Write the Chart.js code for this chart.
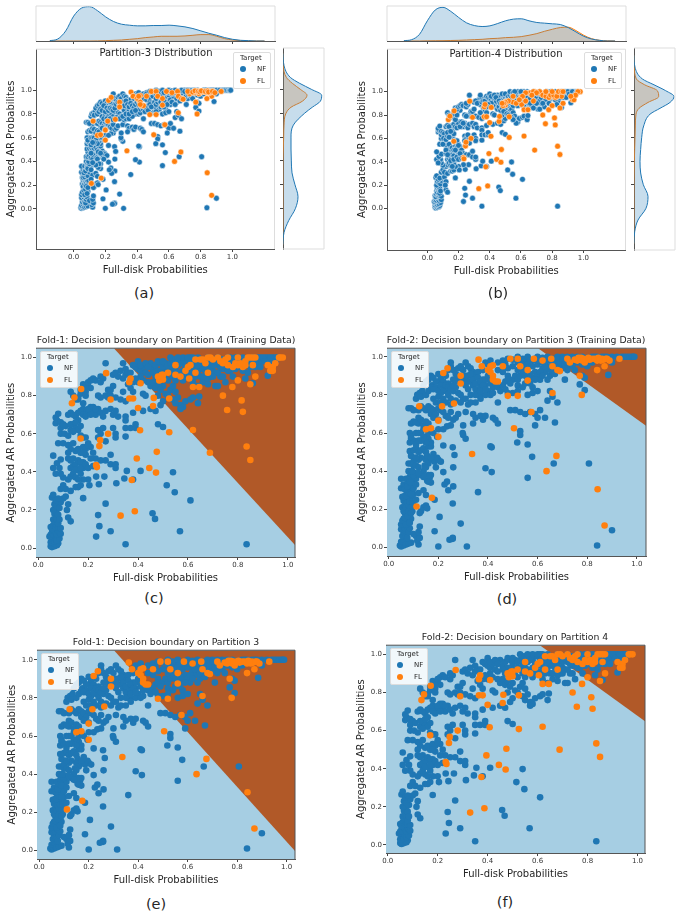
<!DOCTYPE html>
<html>
<head>
<meta charset="utf-8">
<style>
  body { margin: 0; background: #fff; font-family: "DejaVu Sans", sans-serif; color: #262626; }
  #page { position: relative; width: 681px; height: 912px; overflow: hidden; }
  canvas { position: absolute; }
  .label { position: absolute; white-space: nowrap; transform: translate(-50%, -50%); z-index: 2; }
  .legend { position: absolute; box-sizing: border-box; width: 38px; height: 37px; z-index: 2; font-size: 7px;
            background: rgba(255,255,255,.85); border: 1px solid #ddd; border-radius: 2px; }
  .legend div { position: absolute; line-height: 8px; }
  .legend i { position: absolute; width: 6px; height: 6px; border-radius: 50%; }
</style>
<script src="https://cdn.jsdelivr.net/npm/chart.js@4"></script>
</head>
<body>
<div id="page"></div>
<script>
// values, [x, y] = [full-disk prob, aggregated AR prob]
const partition3NF = [
  [.045,.01],[.05,.005],[.055,.015],[.06,.01],[.065,.02],[.05,.03],[.06,.04],[.07,.015],[.08,.02],[.09,.025],[.055,.06],[.06,.08],[.05,.095],[.07,.06],[.065,.1],[.075,.05],[.08,.08],[.06,.12],[.07,.13],[.075,.11],[.085,.1],[.06,.15],[.07,.16],[.08,.14],[.065,.18],[.075,.19],[.085,.17],[.09,.15],[.055,.21],[.065,.22],[.075,.21],[.085,.2],[.095,.19],[.06,.245],[.07,.25],[.08,.24],[.09,.23],[.1,.22],[.055,.265],[.065,.27],[.075,.28],[.085,.265],[.095,.26],[.05,.31],[.07,.3],[.08,.31],[.09,.3],[.1,.28],[.06,.33],[.075,.335],[.085,.325],[.095,.32],[.05,.36],[.07,.36],[.085,.37],[.1,.35],[.08,.4],[.09,.385],[.105,.39],[.11,.36],
  [.05,.12],[.055,.14],[.06,.19],[.065,.155],[.07,.21],[.075,.235],[.08,.22],[.085,.24],[.09,.21],[.07,.12],[.075,.165],[.08,.19],[.085,.13],[.09,.18],[.095,.24],[.06,.265],[.07,.27],[.08,.285],[.09,.28],[.1,.31],[.065,.305],[.075,.32],[.085,.345],[.09,.34],[.1,.38],[.11,.33],[.095,.4],[.1,.43],[.08,.44],[.105,.47],[.09,.48],
  [.12,.015],[.115,.035],[.11,.06],[.1,.07],[.125,.05],[.12,.08],[.125,.11],[.13,.19],[.14,.21],[.125,.18],[.15,.22],[.155,.205],[.12,.285],[.14,.3],[.15,.275],[.16,.345],[.165,.365],[.17,.34],[.155,.35],[.11,.25],
  [.84,.01],[.9,.09],[.807,.44],[.665,.44],[.56,.365],[.578,.475],[.56,.54],[.53,.61],[.53,.59],[.518,.55],[.415,.525],[.41,.53],[.415,.395],[.39,.415],[.36,.29],[.315,.005],[.29,.125],[.258,.05],[.258,.045],[.245,.04],[.2,.005],[.185,.085],[.205,.16],[.258,.23],[.26,.32],[.24,.3],[.235,.345],[.225,.33],[.26,.42],[.22,.395],[.258,.525],[.265,.485],[.22,.535],[.31,.57],[.3,.59],[.298,.6],[.3,.64],[.25,.64],[.235,.635],[.2,.62],[.22,.62],[.17,.62],[.185,.25],
  [.09,.44],[.1,.45],[.11,.43],[.12,.42],[.13,.47],[.14,.4],[.15,.46],[.16,.44],[.17,.38],[.12,.46],[.13,.38],[.145,.43],[.175,.46],[.18,.49],[.185,.45],[.195,.47],[.2,.46],[.21,.45],[.19,.42],[.085,.505],[.1,.51],[.11,.52],[.12,.5],[.13,.51],[.14,.52],[.15,.5],[.16,.53],[.16,.55],[.155,.48],[.17,.53],[.17,.55],[.16,.57],[.15,.58],[.085,.55],[.09,.57],[.1,.56],[.11,.54],[.085,.6],[.09,.58],[.11,.6],[.12,.6],[.14,.62],[.16,.6],[.18,.6],[.195,.58],
  [.12,.65],[.13,.6],[.14,.58],[.15,.55],[.13,.56],[.12,.56],[.17,.47],[.15,.42],[.16,.38],[.14,.37],[.12,.39],[.11,.47],
  [.09,.65],[.1,.66],[.11,.655],[.12,.68],[.13,.67],[.14,.64],[.15,.66],[.16,.65],[.17,.7],[.12,.72],[.08,.73],[.09,.73],[.1,.72],[.13,.74],[.14,.73],[.15,.72],[.16,.74],[.17,.73],[.18,.72],[.19,.7],[.2,.73],[.21,.72],[.22,.71],[.18,.68],[.2,.67],[.23,.69],[.24,.68],[.26,.67],[.25,.71],[.27,.68],[.28,.7],[.31,.71],[.32,.75],[.34,.7],[.35,.68],[.37,.69],[.38,.67],[.39,.69],[.42,.68],[.43,.67],[.44,.65],[.34,.65],
  [.11,.78],[.115,.8],[.125,.81],[.135,.82],[.13,.79],[.15,.8],[.14,.85],[.15,.87],[.16,.88],[.17,.9],[.18,.89],[.175,.85],[.19,.84],[.2,.87],[.2,.91],[.21,.89],[.22,.87],[.23,.9],[.24,.93],[.25,.95],[.25,.97],[.26,.93],[.27,.91],[.28,.94],[.29,.95],[.3,.93],[.31,.97],[.32,.95],[.33,.94],[.34,.92],[.35,.91],
  [.18,.78],[.2,.79],[.21,.81],[.22,.78],[.23,.82],[.24,.8],[.25,.78],[.26,.82],[.27,.84],[.28,.81],[.29,.8],[.3,.78],[.31,.85],[.32,.83],[.33,.87],[.34,.85],[.35,.83],[.36,.86],[.37,.84],[.38,.88],[.39,.85],[.4,.82],[.41,.86],[.36,.8],[.37,.8],[.39,.8],[.41,.8],[.42,.81],[.33,.76],[.35,.76],[.37,.78],[.44,.76],[.22,.85],[.24,.86],[.26,.88],[.28,.87],[.29,.89],[.32,.9],[.34,.89],[.36,.92],[.38,.93],[.39,.97],[.4,.96],[.41,.98],[.44,.93],[.46,.92],[.48,.9],[.47,.87],[.5,.88],[.52,.85],[.54,.84],[.55,.86],[.58,.84],[.5,.81],[.52,.82],[.56,.8],[.58,.81],[.6,.82],[.48,.81],[.49,.72],[.51,.72],[.53,.71],[.55,.7],[.57,.71],[.59,.7],[.6,.68],[.61,.72],[.63,.68],[.64,.77],[.66,.79],[.68,.76],[.67,.655],[.59,.64],[.65,.82],
  [.16,.82],[.17,.84],[.18,.83],[.19,.87],[.2,.82],[.21,.85],[.22,.83],[.23,.85],[.24,.84],[.25,.83],[.26,.85],[.27,.88],[.28,.9],[.29,.87],[.3,.88],[.31,.9],[.32,.87],[.33,.91],[.34,.88],[.35,.86],[.36,.89],[.37,.87],[.38,.85],[.39,.88],[.4,.9],[.41,.88],[.42,.84],[.43,.86],[.44,.84],[.45,.82],[.46,.85],[.47,.83],[.48,.88],[.49,.86],[.51,.9],[.52,.88],[.53,.9],[.54,.92],[.55,.94],[.56,.88],[.57,.86],[.58,.89],[.59,.92],[.6,.9],[.61,.88],[.62,.94],[.63,.92],[.64,.95],[.65,.9],[.66,.92],[.67,.94],[.68,.97],[.69,.95],[.7,.97],[.72,.93],[.73,.96],[.74,.97],[.76,.97],[.78,.96],[.8,.98],[.82,.99],[.84,.99],
  [.19,.76],[.21,.76],[.23,.76],[.25,.75],[.27,.77],[.29,.76],[.31,.78],[.33,.8],[.35,.8],[.37,.82],[.39,.83],
  [.44,.97],[.46,.98],[.47,.96],[.48,.94],[.5,.95],[.5,.985],[.52,.93],[.54,.96],[.55,.9],[.56,.98],[.57,.91],[.58,.95],[.59,.88],[.6,.96],[.61,.92],[.62,.9],[.63,.95],[.64,.88],[.65,.93],[.66,.96],[.67,.91],[.68,.95],[.69,.97],[.7,.94],[.71,.88],[.71,.96],[.72,.97],[.74,.95],[.75,.93],[.78,.9],[.79,.89],[.77,.855],[.79,.825],[.8,.95],[.82,.97],[.885,.905],[.9,.97],
  [.46,.97],[.48,.99],[.52,.97],[.54,.98],[.56,.96],[.58,.98],[.6,.98],[.62,.97],[.64,.98],[.66,.98],[.7,1],[.74,1],[.76,1],[.82,1],[.84,1],[.87,1],
  [.52,1],[.54,.99],[.56,1],[.57,.98],[.59,.99],[.6,1],[.62,.995],[.64,1],[.66,.99],[.68,1],[.7,.99],[.72,1],[.74,.995],[.76,.99],[.78,1],[.8,.995],[.83,1],[.86,1],[.88,1],[.9,1],[.92,1],[.94,1],[.95,1],[.96,1],[.97,1],[.98,1],[.985,1],[.99,1]
];
const partition3FL = [
  [.112,.215],[.174,.26],[.842,.305],[.87,.115],[.336,.49],[.636,.4],[.676,.48],[.505,.625],[.575,.71],[.66,.81],[.778,.8],[.48,.795],[.52,.795],[.123,.74],[.215,.74],[.263,.755],[.2,.665],[.15,.62],[.17,.625],[.2,.58],[.22,.915],[.237,.94],[.29,.9],[.29,.86],[.362,.985],[.375,.95],[.4,.93],[.41,.92],[.42,.955],[.42,.9],[.43,.87],[.44,.87],[.42,.88],[.41,.95],[.46,.95],[.49,.99],[.52,.99],[.53,.95],[.56,.93],[.56,.875],[.585,.99],[.62,.98],[.655,.99],[.66,.95],[.68,.93],[.69,.925],[.73,.97],[.77,.99],[.78,.98],[.8,.99],[.82,.99],[.84,.98],[.86,.99],[.87,.95],[.88,.99],[.77,.9],[.84,.93],[.93,.99],[.76,.98],[.79,.97],[.81,.985],[.855,.98],[.865,.985],[.775,.995],[.72,.99],
  [.75,.985],[.765,.995],[.785,.99],[.795,.985],[.805,.995],[.83,.99],[.845,.995],[.85,.985],[.875,.99],[.89,.98]
];
const partition4NF = [
  [.05,.01],[.055,.005],[.06,.015],[.065,.01],[.07,.02],[.075,.015],[.08,.025],[.05,.03],[.055,.04],[.06,.045],[.065,.035],[.07,.05],[.075,.04],[.085,.05],[.045,.06],[.05,.07],[.055,.08],[.06,.07],[.065,.09],[.07,.08],[.075,.07],[.08,.09],[.085,.08],[.09,.075],[.05,.11],[.055,.1],[.06,.12],[.07,.11],[.075,.12],[.08,.11],[.09,.105],[.06,.15],[.065,.14],[.07,.16],[.075,.15],[.08,.13],[.065,.18],[.07,.2],[.075,.18],[.08,.175],[.06,.2],[.085,.15],[.065,.23],[.075,.22],[.085,.21],[.09,.24],[.1,.26],[.055,.265],[.07,.25],[.06,.28],[.08,.26],[.11,.27],[.12,.23],[.12,.16],[.13,.14],[.115,.2],
  [.835,.02],[.568,.088],[.35,.02],[.29,.088],[.232,.06],[.245,.115],[.24,.173],[.27,.233],[.18,.262],[.458,.183],[.468,.153],[.61,.25],[.547,.293],[.515,.33],[.54,.398],[.41,.405],[.38,.36],[.313,.34],[.345,.365],[.355,.405],[.243,.335],[.265,.375],[.232,.375],[.2,.36],[.205,.33],
  [.09,.31],[.1,.33],[.11,.31],[.13,.3],[.15,.32],[.16,.32],[.17,.33],[.18,.36],[.12,.36],[.13,.375],[.1,.37],[.09,.39],[.085,.42],[.06,.42],[.07,.39],[.075,.445],[.09,.465],[.06,.485],[.12,.47],[.13,.42],[.14,.43],[.15,.44],[.16,.41],[.17,.39],[.18,.42],[.14,.47],[.16,.46],[.18,.45],[.19,.49],[.15,.51],[.13,.52],[.12,.54],[.14,.55],[.16,.52],[.18,.53],[.17,.5],[.19,.52],[.2,.55],[.21,.53],[.22,.5],[.23,.47],[.25,.46],[.27,.46],[.29,.49],[.29,.44],[.31,.42],[.31,.44],[.08,.55],
  [.1,.55],[.12,.5],[.13,.46],[.14,.39],[.15,.37],[.16,.36],[.17,.45],[.15,.41],[.17,.42],[.18,.5],[.19,.44],[.2,.42],[.21,.47],[.22,.43],
  [.07,.655],[.075,.67],[.07,.685],[.08,.705],[.09,.6],[.09,.63],[.09,.66],[.1,.65],[.11,.64],[.105,.6],[.12,.59],[.13,.62],[.14,.65],[.15,.63],[.16,.62],[.17,.59],[.18,.58],[.19,.58],[.2,.54],[.12,.7],[.13,.71],[.15,.69],[.16,.67],[.16,.71],[.17,.64],[.18,.73],[.19,.72],[.2,.71],[.21,.74],[.22,.72],[.23,.7],[.24,.73],[.25,.71],[.26,.69],[.27,.72],[.29,.73],[.3,.7],[.31,.72],[.32,.69],[.35,.69],[.35,.67],[.38,.71],[.24,.62],[.25,.6],[.26,.63],[.24,.58],[.27,.56],[.3,.63],[.31,.6],[.31,.58],[.35,.585],[.35,.63],[.37,.63],[.39,.63],[.39,.65],[.48,.65],[.5,.635],
  [.13,.65],[.14,.7],[.14,.61],[.15,.66],[.17,.72],[.18,.7],[.19,.69],[.2,.73],[.21,.7],[.22,.74],[.23,.73],[.16,.78],[.17,.83],[.18,.86],[.19,.82],[.2,.85],[.21,.84],[.27,.8],[.28,.79],[.29,.8],[.3,.91],[.33,.93],[.34,.89],[.35,.94],[.37,.88],
  [.13,.82],[.14,.8],[.15,.78],[.16,.79],[.17,.81],[.18,.76],[.19,.8],[.19,.85],[.2,.87],[.21,.88],[.22,.89],[.23,.88],[.25,.87],[.26,.89],[.27,.97],[.25,.9],[.28,.83],[.29,.83],[.3,.85],[.31,.92],[.32,.9],[.31,.79],[.33,.78],[.24,.8],[.25,.79],[.34,.97],[.35,.91],[.36,.92],[.36,.86],[.37,.84],[.37,.92],[.34,.82],[.35,.77],[.38,.82],[.42,.81],[.43,.8],[.42,.72],[.45,.73],[.47,.72],[.49,.75],[.5,.77],[.48,.8],[.38,.96],[.39,.95],[.4,.94],[.41,.93],[.42,.95],[.43,.92],[.44,.91],[.45,.97],[.46,.94],[.47,.96],[.48,.93],[.49,.97],[.5,.95],[.51,.97],[.52,.93],[.5,.85],[.52,.88],[.53,.83],[.54,.85],[.55,.82],[.56,.79],[.57,.75],[.58,.74],[.59,.77],[.61,.78],[.62,.79],[.64,.76],[.645,.795],[.57,.73],
  [.44,.87],[.45,.85],[.46,.87],[.47,.84],[.48,.86],[.49,.83],[.51,.81],[.52,.8],[.54,.78],[.55,.76],[.42,.88],[.41,.9],[.4,.87],[.39,.89],[.38,.87],
  [.4,.98],[.41,.96],[.43,.97],[.44,.95],[.46,.92],[.47,.9],[.48,.98],[.49,.92],[.5,.98],[.51,.92],[.51,.89],[.52,.96],[.53,.92],[.53,.97],[.54,.9],[.54,.99],[.55,.93],[.55,.88],[.56,.96],[.57,.99],[.57,.9],[.58,.93],[.58,.97],[.59,.9],[.59,.99],[.6,.94],[.61,.9],[.61,1],[.62,.95],[.62,.92],[.63,.98],[.63,.9],[.64,.93],[.65,.96],[.65,.99],[.66,.87],[.66,.98],[.67,.93],[.68,.95],[.69,.97],[.69,.9],[.7,.93],[.7,.99],[.71,.92],[.72,.96],[.73,.99],[.73,.9],[.74,.94],[.75,.97],[.75,.99],[.76,.96],[.77,.93],[.77,1],[.78,.99],[.79,.94],[.8,.97],[.8,1],[.81,.95],[.82,1],[.83,.97],[.84,.92],[.85,.97],[.86,1],[.87,.95],[.88,.98],[.89,1],[.9,.98],[.91,1],[.92,1],[.93,.97],[.94,1],[.95,1],
  [.53,1],[.55,.99],[.57,.97],[.58,1],[.59,.95],[.6,.99],[.61,.97],[.62,1],[.63,.93],[.64,.96],[.65,.9],[.66,.94],[.67,.98],[.68,.89],[.69,.93],[.7,.96],[.71,.85],[.71,.98],[.72,.92],[.73,.95],[.74,.99],[.75,.87],[.76,.93],[.77,.97],[.78,.9],[.79,1],[.8,.95],[.81,.98],[.82,.93],[.83,.89],[.84,.98],[.85,.95],[.86,.865],[.87,.97],[.88,1],[.89,.95],[.9,1],[.91,.98],[.92,.905],[.93,1],[.95,.98],[.96,1],[.6,.91],[.62,.87],[.64,.85],[.58,.88],[.56,.92],[.54,.95],[.66,.9],[.68,.86],[.72,.85],[.74,.9],[.7,.9],[.78,.97],[.76,1],[.72,1],[.68,1],[.64,1],[.6,1],[.56,1]
];
const partition4FL = [
  [.33,.17],[.387,.193],[.375,.357],[.395,.47],[.445,.42],[.472,.396],[.475,.505],[.232,.435],[.235,.425],[.245,.535],[.248,.567],[.28,.6],[.17,.575],[.408,.618],[.525,.608],[.62,.62],[.688,.5],[.835,.533],[.85,.462],[.82,.715],[.815,.775],[.757,.725],[.74,.8],[.778,.845],[.4,.735],[.29,.78],[.365,.785],[.38,.785],[.46,.745],[.463,.788],[.525,.785],[.135,.76],[.145,.79],[.172,.835],[.272,.918],[.365,.87],[.37,.89],[.41,.865],[.49,.895],[.495,.91],[.5,.885],[.485,.88],[.55,.91],[.57,.9],[.605,.89],[.62,.845],[.645,.845],[.63,.92],[.68,.92],[.6,.95],[.55,.96],[.65,.99],[.69,1],[.73,.98],[.75,.99],[.8,.96],[.83,.98],[.85,1],[.86,.96],[.82,.95],[.97,1],[.98,1],[.965,1],[.94,.95],[.93,.93],[.85,.86],[.87,.9],[.8,.88],[.72,1],[.66,.99],[.63,.99],[.68,1],
  [.74,.97],[.76,.96],[.78,.95],[.79,.97],[.81,.97],[.83,.96],[.84,1],[.86,1],[.87,1],[.8,1],[.76,1],[.7,.99],[.67,.97],[.61,.96],[.59,.93],[.52,.92],[.5,.91],[.49,.9],[.48,.9],[.94,.93],[.95,.97],[.92,.96]
];

// marginal densities, read in picture-height units
const topGrid = [-.15,-.1,-.05,0,.05,.1,.15,.2,.25,.3,.35,.4,.45,.5,.55,.6,.65,.7,.75,.8,.85,.9,.95,1,1.05,1.1,1.15,1.2];
const topNF3 = [1,6,30,74,98,102,90,72,58,50,47,45,45,46,46,47,45,42,37,30,23,17,10,5,2,1,0,0];
const topFL3 = [0,0,0,0,0,0,.3,1,2,3,5,7,10,12,14,14,14,15,17,19,19,14,7,3,1,0,0,0];
const topNF4 = [1,4,20,60,92,100,88,70,54,46,43,45,52,60,65,66,60,55,53,51,49,40,27,14,6,2,0,0];
const topFL4 = [0,0,0,.5,.8,1,1.5,2,3,4,5,7,8,10,11,13,17,22,29,35,40,41,31,17,7,2,.5,0];
const sideGrid = [-.3,-.2,-.1,0,.1,.2,.3,.4,.5,.6,.7,.8,.85,.9,.95,1,1.05,1.1,1.2,1.3];
const sideNF3 = [0,3,17,37,45,36,27,25,24,24,31,65,88,112,116,85,50,22,3,0];
const sideFL3 = [0,0,0,0,0,0,0,0,1,2,3,9,24,58,72,52,28,10,1,0];
const sideNF4 = [0,2,12,36,42,28,20,18,20,23,29,48,78,108,120,95,60,25,3,0];
const sideFL4 = [0,0,0,0,0,0,.5,1,2,3,4,6,15,42,74,70,32,7,1,0];

// decision boundary end points
const boundaryC = [[.303,1.049],[1.029,.016]];
const boundaryD = [[.602,1.045],[1.037,.638]];
const boundaryE = [[.302,1.05],[1.034,-.003]];
const boundaryF = [[.609,1.048],[1.03,.649]];

const axisTicks = [0,.2,.4,.6,.8,1];
const seriesNames = ['NF','FL'];

const BLUE = '#1f77b4', ORANGE = '#ff7f0e';
const page = document.getElementById('page');

function toPoints(rows) {
    return rows.map(([x, y]) => ({ x, y }));
}

function addCanvas(left, top, width, height) {
    const canvas = document.createElement('canvas');
    canvas.width = width;
    canvas.height = height;
    canvas.style.left = left + 'px';
    canvas.style.top = top + 'px';
    canvas.style.width = width + 'px';
    canvas.style.height = height + 'px';
    page.appendChild(canvas);
    return canvas;
}

function addLabel(text, x, y, size) {
    const el = document.createElement('div');
    el.className = 'label';
    el.textContent = text;
    el.style.left = x + 'px';
    el.style.top = y + 'px';
    el.style.fontSize = size + 'px';
    page.appendChild(el);
}

// html legend, chart.js one can't be placed freely inside the axes
function addLegend(x, y) {
    const box = document.createElement('div');
    box.className = 'legend';
    box.style.left = x + 'px';
    box.style.top = y + 'px';
    const title = document.createElement('div');
    title.textContent = 'Target';
    title.style.left = '6px';
    title.style.top = '1px';
    box.appendChild(title);
    seriesNames.forEach((name, i) => {
        const dot = document.createElement('i');
        dot.style.left = '6px';
        dot.style.top = (13 + i * 12) + 'px';
        dot.style.background = i === 0 ? BLUE : ORANGE;
        const text = document.createElement('div');
        text.textContent = name;
        text.style.left = '23px';
        text.style.top = (12 + i * 12) + 'px';
        box.appendChild(dot);
        box.appendChild(text);
    });
    page.appendChild(box);
}

// plot background and the spines chart.js has no option for
const framePlugin = {
    id: 'frame',
    beforeDatasetsDraw(chart, args, opts) {
        if (!opts.fill) return;
        const { left, top, width, height } = chart.chartArea;
        chart.ctx.fillStyle = opts.fill;
        chart.ctx.fillRect(left, top, width, height);
    },
    afterDraw(chart, args, opts) {
        const { left, top, right, bottom } = chart.chartArea;
        const ctx = chart.ctx;
        ctx.save();
        ctx.strokeStyle = opts.color;
        ctx.lineWidth = 1;
        ctx.beginPath();
        if (opts.sides.includes('t')) { ctx.moveTo(left, top); ctx.lineTo(right, top); }
        if (opts.sides.includes('r')) { ctx.moveTo(right, top); ctx.lineTo(right, bottom); }
        if (opts.sides.includes('l')) { ctx.moveTo(left, top); ctx.lineTo(left, bottom); }
        if (opts.sides.includes('b')) { ctx.moveTo(left, bottom); ctx.lineTo(right, bottom); }
        ctx.stroke();
        ctx.restore();
    }
};

function fixedTicks(scale) {
    scale.ticks = axisTicks.map((value) => ({ value }));
}

function mainChart(p) {
    const [l, t, r, b] = p.box;
    const marginLeft = 36, marginTop = 4, marginRight = 4, marginBottom = 27;
    const canvas = addCanvas(l - marginLeft, t - marginTop, r - l + marginLeft + marginRight, b - t + marginTop + marginBottom);

    const datasets = [
        { label: 'FL', data: toPoints(p.fl), order: 0, backgroundColor: ORANGE, borderColor: p.edge ? '#fff' : ORANGE, borderWidth: p.edge ? .5 : 0, pointRadius: p.radius },
        { label: 'NF', data: toPoints(p.nf), order: 1, backgroundColor: BLUE, borderColor: p.edge ? '#fff' : BLUE, borderWidth: p.edge ? .5 : 0, pointRadius: p.radius }
    ];
    if (p.boundary) {
        datasets.push({ type: 'line', label: 'boundary', data: toPoints(p.boundary), order: 2, pointRadius: 0, borderWidth: 0, fill: 'end', backgroundColor: '#b15928' });
    }

    new Chart(canvas, {
        type: 'scatter',
        data: { datasets },
        plugins: [framePlugin],
        options: {
            responsive: false,
            animation: false,
            layout: { padding: { top: marginTop, right: marginRight } },
            plugins: {
                legend: { display: false },
                tooltip: { enabled: false },
                frame: p.boundary
                    ? { fill: '#a6cee3', color: '#555', sides: 'tr' }
                    : { color: '#ddd', sides: 'tr' }
            },
            scales: {
                x: {
                    min: p.x[0], max: p.x[1],
                    afterBuildTicks: fixedTicks,
                    afterFit: (s) => { s.height = marginBottom; },
                    grid: { drawOnChartArea: false, tickLength: 3, tickColor: '#444' },
                    border: { color: '#555', width: 1 },
                    ticks: { color: '#333', font: { family: 'DejaVu Sans', size: 7 }, padding: 1, maxRotation: 0, callback: (v) => v.toFixed(1) },
                    title: { display: true, text: 'Full-disk Probabilities', color: '#262626', font: { family: 'DejaVu Sans', size: 10 }, padding: 0 }
                },
                y: {
                    min: p.y[0], max: p.y[1],
                    afterBuildTicks: fixedTicks,
                    afterFit: (s) => { s.width = marginLeft; },
                    grid: { drawOnChartArea: false, tickLength: 3, tickColor: '#444' },
                    border: { color: '#555', width: 1 },
                    ticks: { color: '#333', font: { family: 'DejaVu Sans', size: 7 }, padding: 1, callback: (v) => v.toFixed(1) },
                    title: { display: true, text: p.yLabel, color: '#262626', font: { family: 'DejaVu Sans', size: 10 }, padding: { top: 5, bottom: 0 } }
                }
            }
        }
    });

    addLegend(p.legend[0], p.legend[1]);
    addLabel(p.title, p.titlePos[0], p.titlePos[1], p.titleSize);
    addLabel(p.caption, p.capPos[0], p.capPos[1], 14.5);
}

function densitySet(label, color, points, order) {
    return { label, data: points, order, borderColor: color, borderWidth: 1, backgroundColor: color + '40', fill: 'origin', pointRadius: 0, cubicInterpolationMode: 'monotone' };
}

function topMarginal(box, xRange, nf, fl) {
    const [l, t, r, b] = box;
    const canvas = addCanvas(l - 3, t - 3, r - l + 6, b - t + 8);
    new Chart(canvas, {
        type: 'line',
        data: { datasets: [
            densitySet('NF', BLUE, topGrid.map((x, i) => ({ x, y: nf[i] })), 0),
            densitySet('FL', ORANGE, topGrid.map((x, i) => ({ x, y: fl[i] })), 1)
        ] },
        plugins: [framePlugin],
        options: {
            responsive: false,
            animation: false,
            layout: { padding: { left: 3, right: 3, top: 3 } },
            plugins: { legend: { display: false }, tooltip: { enabled: false }, frame: { color: '#ddd', sides: 'tlr' } },
            scales: {
                x: {
                    type: 'linear', min: xRange[0], max: xRange[1],
                    afterBuildTicks: fixedTicks,
                    afterFit: (s) => { s.height = 5; },
                    grid: { drawOnChartArea: false, tickLength: 3, tickColor: '#444' },
                    border: { color: '#555' },
                    ticks: { display: false }
                },
                y: { display: false, min: 0, max: 104 }
            }
        }
    });
}

function sideMarginal(box, yRange, nf, fl) {
    const [l, t, r, b] = box;
    const canvas = addCanvas(l - 5, t - 3, r - l + 8, b - t + 6);
    new Chart(canvas, {
        type: 'line',
        data: { datasets: [
            densitySet('NF', BLUE, sideGrid.map((y, i) => ({ x: nf[i], y })), 0),
            densitySet('FL', ORANGE, sideGrid.map((y, i) => ({ x: fl[i], y })), 1)
        ] },
        plugins: [framePlugin],
        options: {
            indexAxis: 'y',
            responsive: false,
            animation: false,
            layout: { padding: { top: 3, bottom: 3, right: 3 } },
            plugins: { legend: { display: false }, tooltip: { enabled: false }, frame: { color: '#ddd', sides: 'tbr' } },
            scales: {
                x: { type: 'linear', display: false, min: 0, max: 123 },
                y: {
                    type: 'linear', min: yRange[0], max: yRange[1],
                    afterBuildTicks: fixedTicks,
                    afterFit: (s) => { s.width = 5; },
                    grid: { drawOnChartArea: false, tickLength: 3, tickColor: '#444' },
                    border: { color: '#555' },
                    ticks: { display: false }
                }
            }
        }
    });
}

const AR_OLD = 'Aggregated AR Probabilites', AR = 'Aggregated AR Probabilities';

// (a) and (b): joint plots with marginals
mainChart({ box: [36,48,275,249], x: [-.237,1.266], y: [-.3375,1.346], nf: partition3NF, fl: partition3FL, edge: true, radius: 2.9, yLabel: AR_OLD,
    legend: [233,52], title: 'Partition-3 Distribution', titlePos: [156,52], titleSize: 10, caption: '(a)', capPos: [144,293] });
topMarginal([36,6,275,41], [-.237,1.266], topNF3, topFL3);
sideMarginal([283,48,324,249], [-.3375,1.346], sideNF3, sideFL3);

mainChart({ box: [387,48,626,250], x: [-.258,1.27], y: [-.355,1.363], nf: partition4NF, fl: partition4FL, edge: true, radius: 2.9, yLabel: AR_OLD,
    legend: [584,52], title: 'Partition-4 Distribution', titlePos: [506,52.5], titleSize: 10, caption: '(b)', capPos: [498,293] });
topMarginal([387,6,626,41], [-.258,1.27], topNF4, topFL4);
sideMarginal([634,48,675,250], [-.355,1.363], sideNF4, sideFL4);

// (c) - (f): decision boundaries
mainChart({ box: [36,347,295,557], x: [-.009,1.029], y: [-.047,1.049], nf: partition4NF, fl: partition4FL, boundary: boundaryC, radius: 3.3, yLabel: AR,
    legend: [40,351], title: 'Fold-1: Decision boundary on Partition 4 (Training Data)', titlePos: [166,339], titleSize: 9.3, caption: '(c)', capPos: [154,598] });
mainChart({ box: [387,347,646,556], x: [-.007,1.037], y: [-.045,1.045], nf: partition3NF, fl: partition3FL, boundary: boundaryD, radius: 3.3, yLabel: AR,
    legend: [391,351], title: 'Fold-2: Decision boundary on Partition 3 (Training Data)', titlePos: [516,339], titleSize: 9.3, caption: '(d)', capPos: [507,599] });
mainChart({ box: [37,649,295,859], x: [-.009,1.034], y: [-.045,1.05], nf: partition3NF, fl: partition3FL, boundary: boundaryE, radius: 3.3, yLabel: AR,
    legend: [41,653], title: 'Fold-1: Decision boundary on Partition 3', titlePos: [166,641], titleSize: 9.3, caption: '(e)', capPos: [156,904] });
mainChart({ box: [386,644,645,853], x: [-.007,1.03], y: [-.042,1.048], nf: partition4NF, fl: partition4FL, boundary: boundaryF, radius: 3.3, yLabel: AR,
    legend: [390,648], title: 'Fold-2: Decision boundary on Partition 4', titlePos: [515,636], titleSize: 9.3, caption: '(f)', capPos: [505,902] });
</script>
</body>
</html>
